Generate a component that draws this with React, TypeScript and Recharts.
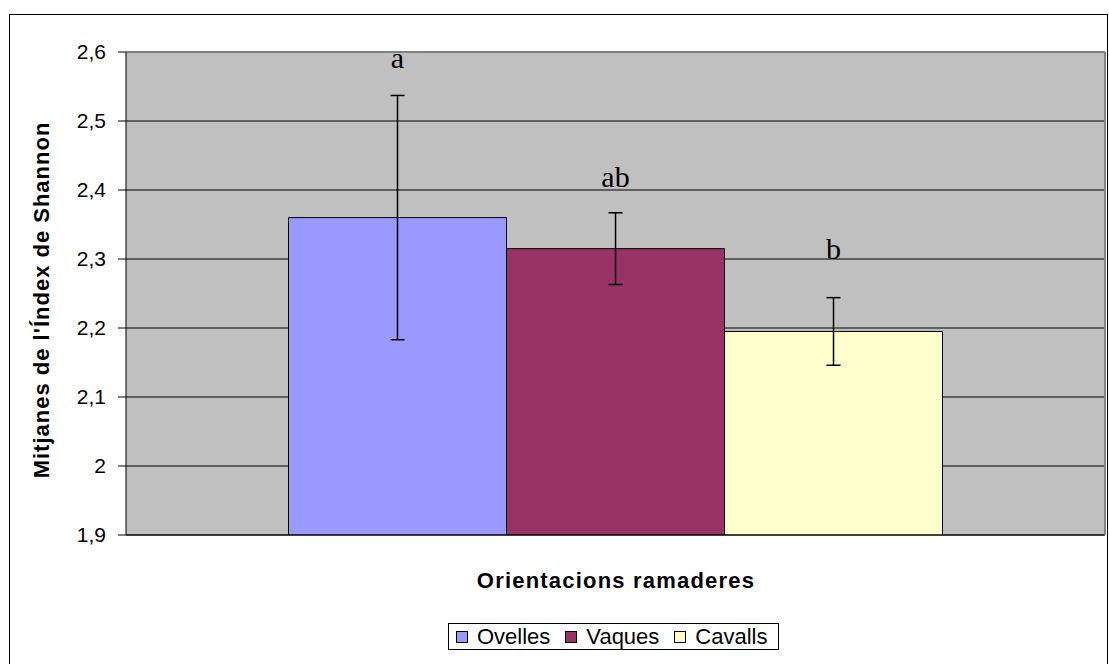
import { BarChart, Bar, XAxis, YAxis, CartesianGrid, ErrorBar, Legend } from "recharts";

const seriesNames = ["Ovelles", "Vaques", "Cavalls"];
const seriesKeys = ["ovelles", "vaques", "cavalls"];
const means = [2.36, 2.315, 2.195];
const errors = [0.177, 0.052, 0.049];
const letters = ["a", "ab", "b"];
// height (in index units) where each significance letter sits
const letterLevels = [2.577, 2.404, 2.3];
const colors = ["#9999FF", "#993366", "#FFFFCC"];
const yTicks = [1.9, 2, 2.1, 2.2, 2.3, 2.4, 2.5, 2.6];
const Y_MIN = 1.9;
const Y_MAX = 2.6;

const row: Record<string, number | string> = { name: "" };
seriesKeys.forEach((k, i) => {
  row[k] = means[i];
  row[k + "Err"] = errors[i];
});
const data = [row];

const sans = "'Liberation Sans', Arial, sans-serif";
const serif = "'Liberation Serif', 'Times New Roman', serif";

function letterLabel(i: number) {
  return (props: any) => {
    const x = Number(props.x);
    const y = Number(props.y);
    const width = Number(props.width);
    const height = Number(props.height);
    const perUnit = height / (means[i] - Y_MIN);
    const ty = y - (letterLevels[i] - means[i]) * perUnit;
    return (
      <text x={x + width / 2} y={ty} textAnchor="middle" fontFamily={serif} fontSize={30} fill="#000">
        {letters[i]}
      </text>
    );
  };
}

function LegendBox() {
  return (
    <div
      style={{
        display: "flex",
        alignItems: "center",
        border: "1px solid #000",
        background: "#fff",
        padding: "0 11px 0 7px",
        height: 27,
        boxSizing: "border-box",
        fontFamily: sans,
        fontSize: 22,
        lineHeight: "25px",
        color: "#000",
        whiteSpace: "nowrap",
      }}
    >
      {seriesNames.map((n, i) => (
        <span key={n} style={{ display: "flex", alignItems: "center", marginRight: i < 2 ? 15 : 0 }}>
          <span
            style={{
              display: "inline-block",
              width: 10,
              height: 10,
              border: "1px solid #000",
              background: colors[i],
              marginRight: 9,
            }}
          />
          {n}
        </span>
      ))}
    </div>
  );
}

export default function App() {
  return (
    <div style={{ position: "fixed", left: 0, top: 0, width: 1109, height: 664, background: "#fff", overflow: "hidden" }}>
      <div
        style={{
          position: "absolute",
          left: 9,
          top: 14,
          width: 1097,
          height: 680,
          border: "1px solid #000",
        }}
      />
      <div style={{ position: "absolute", left: 0, top: 0 }}>
        <BarChart
          width={1109}
          height={664}
          data={data}
          margin={{ top: 51, right: 3, bottom: 89, left: 0 }}
          barCategoryGap="16.6%"
          barGap={0}
        >
          <CartesianGrid vertical={false} fill="#C0C0C0" stroke="#000" />
          <XAxis
            dataKey="name"
            height={40}
            tick={false}
            tickLine={false}
            axisLine={{ stroke: "#000" }}
            label={{
              content: () => (
                <text
                  x={616}
                  y={588}
                  textAnchor="middle"
                  fontFamily={sans}
                  fontWeight="bold"
                  fontSize={22}
                  letterSpacing={1.2}
                  fill="#000"
                >
                  Orientacions ramaderes
                </text>
              ),
            }}
          />
          <XAxis
            xAxisId="top"
            orientation="top"
            dataKey="name"
            height={1}
            tick={false}
            tickLine={false}
            axisLine={{ stroke: "#808080", strokeWidth: 2 }}
          />
          <YAxis
            width={126}
            domain={[Y_MIN, Y_MAX]}
            ticks={yTicks}
            interval={0}
            allowDataOverflow
            tickSize={8}
            tickMargin={12}
            tickLine={{ stroke: "#000" }}
            axisLine={{ stroke: "#000" }}
            tick={{ fill: "#000", fontFamily: sans, fontSize: 21 }}
            tickFormatter={(v) => String(v).replace(".", ",")}
            label={{
              content: () => (
                <text
                  x={41}
                  y={300}
                  transform="rotate(-90 41 300)"
                  textAnchor="middle"
                  dominantBaseline="central"
                  fontFamily={sans}
                  fontWeight="bold"
                  fontSize={22}
                  letterSpacing={1}
                  fill="#000"
                >
                  Mitjanes de l'Índex de Shannon
                </text>
              ),
            }}
          />
          <YAxis
            yAxisId="right"
            orientation="right"
            width={1}
            domain={[Y_MIN, Y_MAX]}
            tick={false}
            tickLine={false}
            axisLine={{ stroke: "#808080", strokeWidth: 2 }}
          />
          <Legend
            layout="horizontal"
            verticalAlign="middle"
            align="center"
            content={() => <LegendBox />}
            wrapperStyle={{ left: 448, top: 623, width: "auto", height: "auto" }}
          />
          {seriesKeys.map((k, i) => (
            <Bar
              key={k}
              dataKey={k}
              name={seriesNames[i]}
              fill={colors[i]}
              stroke="#000"
              strokeWidth={1}
              isAnimationActive={false}
              label={letterLabel(i)}
            >
              <ErrorBar dataKey={k + "Err"} width={7} stroke="#000" strokeWidth={1.5} direction="y" />
            </Bar>
          ))}
        </BarChart>
      </div>
    </div>
  );
}
